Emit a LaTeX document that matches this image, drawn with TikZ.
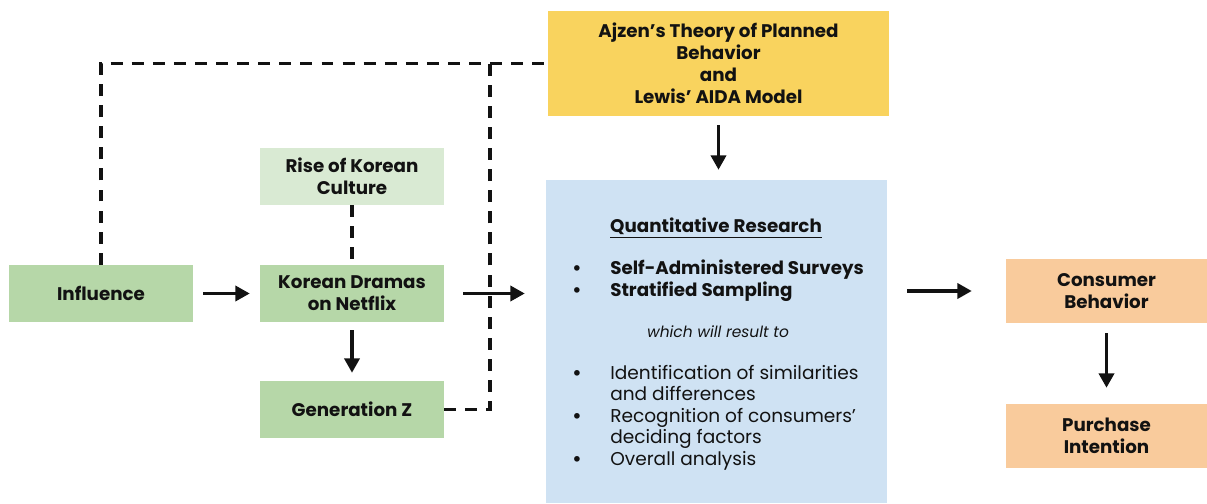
\documentclass[tikz,border=0pt]{standalone}
\usepackage{fontspec}
\setmainfont{Poppins}
\usepackage{tikz}
\definecolor{ink}{HTML}{121212}
\definecolor{boxgreen}{HTML}{B6D7A8}
\definecolor{boxpale}{HTML}{D9EAD3}
\definecolor{boxgold}{HTML}{F9D35E}
\definecolor{boxblue}{HTML}{CFE2F3}
\definecolor{boxpeach}{HTML}{F9CB9C}
\usetikzlibrary{
  arrows.meta,
  positioning,
  calc
}
\tikzset{
  >={Triangle[length=3.6mm,width=3.8mm]},
  every node/.style={text=ink},
  block/.style={
    fill=boxgreen,
    align=center,
    minimum width=4.6cm,
    minimum height=1.425cm,
    inner sep=2pt,
    font=\bfseries\fontsize{13}{15.5}\selectfont
  },
  blockP/.style={block, fill=boxpale},
  blockO/.style={block, fill=boxpeach, minimum width=5.025cm, minimum height=1.6cm},
  theory/.style={block, fill=boxgold, minimum width=8.525cm, minimum height=2.625cm, font=\bfseries\fontsize{13}{15.6}\selectfont},
  panel/.style={fill=boxblue, minimum width=8.525cm, minimum height=8.075cm, inner sep=0pt},
  listtext/.style={anchor=west, align=left, inner sep=0pt, font=\fontsize{13.2}{15.3}\selectfont},
  arrow/.style={->, line width=2.3pt, draw=ink},
  link/.style={line width=2.3pt, draw=ink, dash pattern=on 8.5pt off 6.5pt}
}
\newcommand{\blt}{\textbf{\textbullet}}
\begin{document}
\begin{tikzpicture}
  \useasboundingbox (0,0) rectangle (30.175,12.575);

  % Left column
  \node[block] (infl) at (2.525,5.2375) {Influence};
  \node[block] (kdrama) at (8.8,5.2375) {Korean Dramas\\on Netflix};
  \node[blockP] (rise) at (8.8,8.1625) {Rise of Korean\\Culture};
  \node[block] (genz) at (8.8,2.3375) {Generation Z};

  % Theory and method
  \node[theory] (ajzen) at (17.9625,10.9875) {Ajzen’s Theory of Planned\\Behavior\\and\\Lewis’ AIDA Model};
  \node[panel] (research) at (17.9125,4.0375) {};

  % Outcomes
  \node[blockO] (cons) at (27.6625,5.3) {Consumer\\Behavior};
  \node[blockO] (purch) at (27.6625,1.675) {Purchase\\Intention};

  % Research panel text
  \node[font=\bfseries\fontsize{13}{15}\selectfont] (qtitle) at (17.9,6.875) {\underline{Quantitative Research}};
  \node[listtext, font=\bfseries\fontsize{13}{15.3}\selectfont] (methods) at (14.3,5.55) {%
    \begin{tabular}{@{}p{0.95cm}@{}l@{}}
      \blt & Self-Administered Surveys\\
      \blt & Stratified Sampling
    \end{tabular}};
  \node[font=\itshape\fontsize{11}{13}\selectfont] (result) at (17.95,4.275) {which will result to};
  \node[listtext] (findings) at (14.3,2.125) {%
    \begin{tabular}{@{}p{0.95cm}@{}l@{}}
      \blt & Identification of similarities\\
           & and differences\\
      \blt & Recognition of consumers’\\
           & deciding factors\\
      \blt & Overall analysis
    \end{tabular}};

  % Links
  \coordinate (jn) at (12.25,11);
  \draw[link] (infl.north) |- (ajzen.west);
  \draw[link] (genz.east) -| (jn);
  \draw[link] (rise.south) -- (kdrama.north);

  % Arrows
  \draw[arrow, shorten <=0.25cm, shorten >=0.25cm] (infl.east) -- (kdrama.west);
  \draw[arrow, shorten <=0.2cm, shorten >=0.2cm] (kdrama.south) -- (genz.north);
  \draw[arrow, shorten <=0.475cm, shorten >=0.525cm] (kdrama.east) -- (kdrama.east -| research.west);
  \draw[arrow, shorten <=0.225cm, shorten >=0.25cm] (ajzen.south) -- (ajzen.south |- research.north);
  \draw[arrow, shorten <=0.5cm, shorten >=0.85cm] (research.east |- cons.west) -- (cons.west);
  \draw[arrow, shorten <=0.25cm, shorten >=0.4cm] (cons.south) -- (purch.north);
\end{tikzpicture}
\end{document}
